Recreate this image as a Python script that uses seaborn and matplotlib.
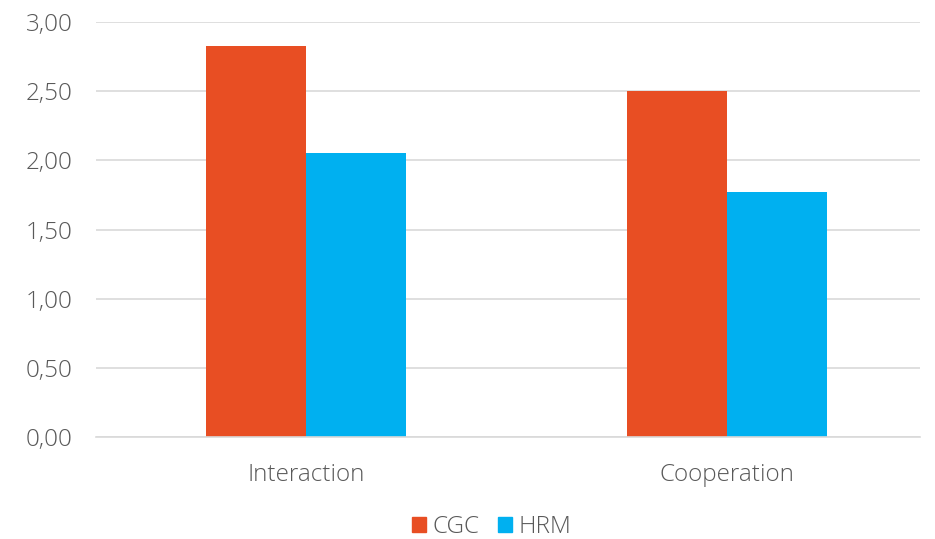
import matplotlib
matplotlib.use("Agg")
import matplotlib.pyplot as plt
from matplotlib.ticker import FuncFormatter
import seaborn as sns
import pandas as pd

categories = ["Interaction", "Cooperation"]
series = ["CGC", "HRM"]
cgc_values = [2.83, 2.50]
hrm_values = [2.05, 1.77]

colors = {"CGC": "#E84E23", "HRM": "#00B0F0"}
text_color = "#595959"
font_size = 17.5

df = pd.DataFrame({
    "category": categories * 2,
    "series": [series[0]] * len(categories) + [series[1]] * len(categories),
    "value": cgc_values + hrm_values,
})

sns.set_theme(style="white")
plt.rcParams["font.family"] = ["Open Sans", "DejaVu Sans"]

fig = plt.figure(figsize=(9.35, 5.39), dpi=100)
ax = fig.add_axes([96 / 935, 1 - 437 / 539, (920 - 96) / 935, (437 - 22) / 539])

sns.barplot(data=df, x="category", y="value", hue="series", order=categories,
            hue_order=series, palette=colors, width=0.475, gap=0,
            linewidth=0, saturation=1, ax=ax, legend=False)

ax.set_ylim(0, 3.0)
ax.set_xlim(-0.499, 1.458)
ax.set_yticks([0, 0.5, 1.0, 1.5, 2.0, 2.5, 3.0])
ax.yaxis.set_major_formatter(FuncFormatter(lambda v, _: f"{v:.2f}".replace(".", ",")))
ax.grid(axis="y", color="#D9D9D9", linewidth=1.2)
ax.set_axisbelow(True)
for s in ["top", "right", "left"]:
    ax.spines[s].set_visible(False)
ax.spines["bottom"].set_color("#D9D9D9")
ax.spines["bottom"].set_linewidth(1.2)
ax.set_xlabel("")
ax.set_ylabel("")
ax.tick_params(axis="both", length=0, labelsize=font_size, labelcolor=text_color)
ax.tick_params(axis="y", pad=17)
ax.tick_params(axis="x", pad=19)
for lbl in ax.get_xticklabels() + ax.get_yticklabels():
    lbl.set_fontweight("light")

handles = [plt.Rectangle((0, 0), 1, 1, color=colors[s]) for s in series]
leg = fig.legend(handles, series, loc="center", bbox_to_anchor=(492 / 935, 1 - 527 / 539),
                 ncol=2, frameon=False, handlelength=0.55, handleheight=0.55,
                 handletextpad=0.3, columnspacing=0.75,
                 prop={"size": font_size, "weight": "light"})
for t in leg.get_texts():
    t.set_color(text_color)

fig.savefig("out.png", dpi=100)
